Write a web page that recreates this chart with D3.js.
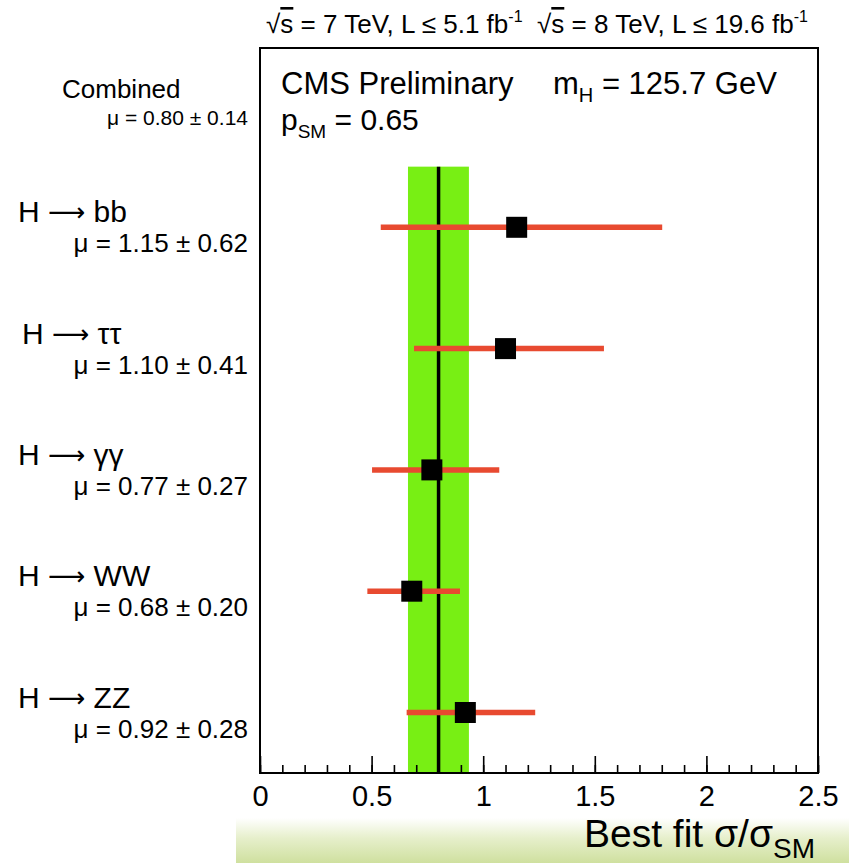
<!DOCTYPE html>
<html>
<head>
<meta charset="utf-8">
<script src="https://cdn.jsdelivr.net/npm/d3@7"></script>
<style>
  body { margin: 0; background: #fff; }
  svg { display: block; font-family: "Liberation Sans", Arial, sans-serif; }
</style>
</head>
<body>
<div id="chart"></div>
<script>
// channel rows, top to bottom
const channels = ["Combined", "bb", "\u03c4\u03c4", "\u03b3\u03b3", "WW", "ZZ"];
const muLabels = ["\u03bc = 0.80 \u00b1 0.14", "\u03bc = 1.15 \u00b1 0.62", "\u03bc = 1.10 \u00b1 0.41",
  "\u03bc = 0.77 \u00b1 0.27", "\u03bc = 0.68 \u00b1 0.20", "\u03bc = 0.92 \u00b1 0.28"];
const bestFit = [0.80, 1.15, 1.10, 0.77, 0.68, 0.92];
const errLow = [0.663, 0.541, 0.690, 0.502, 0.481, 0.657];
const errHigh = [0.936, 1.802, 1.541, 1.072, 0.896, 1.233];
const tickValues = [0, 0.5, 1, 1.5, 2, 2.5];
const tickLabels = ["0", "0.5", "1", "1.5", "2", "2.5"];

const width = 849, height = 863;
const frame = {left: 260, right: 818, top: 48, bottom: 773};

const svg = d3.select('#chart').append('svg')
  .attr('width', width)
  .attr('height', height);

// slide decoration at the bottom
const defs = svg.append('defs');
const grad = defs.append('linearGradient')
  .attr('id', 'slideGrad').attr('x1', 0).attr('y1', 0).attr('x2', 0).attr('y2', 1);
grad.append('stop').attr('offset', '0%').attr('stop-color', '#ffffff');
grad.append('stop').attr('offset', '45%').attr('stop-color', '#e6efcb');
grad.append('stop').attr('offset', '100%').attr('stop-color', '#cfe09f');
svg.append('rect')
  .attr('x', 236).attr('y', 818).attr('width', width - 236).attr('height', height - 818)
  .attr('fill', 'url(#slideGrad)');

let xScale = d3.scaleLinear()
  .domain([0, 2.5])
  .range([frame.left, frame.right]);
let yScale = d3.scaleLinear()
  .domain([0, 5])
  .range([106, 712.5]);

// combined band + line
svg.append('rect')
  .attr('x', xScale(errLow[0]))
  .attr('width', xScale(errHigh[0]) - xScale(errLow[0]))
  .attr('y', yScale(0.5))
  .attr('height', frame.bottom - yScale(0.5))
  .attr('fill', '#78ef14');
svg.append('line')
  .attr('x1', xScale(bestFit[0])).attr('x2', xScale(bestFit[0]))
  .attr('y1', yScale(0.5)).attr('y2', frame.bottom)
  .attr('stroke', '#000').attr('stroke-width', 3.5);

// channel error bars and points
const rows = d3.range(1, channels.length);
svg.selectAll('line.err').data(rows).join('line')
  .attr('class', 'err')
  .attr('x1', i => xScale(errLow[i]))
  .attr('x2', i => xScale(errHigh[i]))
  .attr('y1', i => yScale(i))
  .attr('y2', i => yScale(i))
  .attr('stroke', '#e84a30')
  .attr('stroke-width', 5.5);
const sq = 21;
svg.selectAll('rect.pt').data(rows).join('rect')
  .attr('class', 'pt')
  .attr('x', i => xScale(bestFit[i]) - sq / 2)
  .attr('y', i => yScale(i) - sq / 2)
  .attr('width', sq).attr('height', sq)
  .attr('fill', '#000');

// frame
svg.append('rect')
  .attr('x', frame.left).attr('y', frame.top)
  .attr('width', frame.right - frame.left).attr('height', frame.bottom - frame.top)
  .attr('fill', 'none').attr('stroke', '#000').attr('stroke-width', 2);

// x axis: minor + major ticks pointing inward
let minorAxis = d3.axisBottom(xScale).tickValues(d3.range(0, 2.501, 0.1)).tickSize(-8).tickFormat('');
let minor = svg.append('g').attr('transform', 'translate(0,' + frame.bottom + ')').call(minorAxis);
let majorAxis = d3.axisBottom(xScale).tickValues(tickValues).tickSize(-17).tickPadding(12)
  .tickFormat((d, i) => tickLabels[i]);
let major = svg.append('g').attr('transform', 'translate(0,' + frame.bottom + ')').call(majorAxis);
[minor, major].forEach(g => {
  g.select('.domain').remove();
  g.selectAll('line').attr('stroke', '#000').attr('stroke-width', 1.6);
});
major.selectAll('text')
  .attr('font-family', '"Liberation Sans", Arial, sans-serif')
  .attr('font-size', 29).attr('fill', '#000');

// axis title
const title = svg.append('text')
  .attr('x', 815).attr('y', 847)
  .attr('text-anchor', 'end')
  .attr('font-size', 39);
title.append('tspan').text('Best fit \u03c3/\u03c3');
title.append('tspan').attr('font-size', 28).attr('dy', 11).text('SM');

// header
const header = svg.append('text')
  .attr('x', 537).attr('y', 33)
  .attr('text-anchor', 'middle')
  .attr('font-size', 26);
function sqrtS(t) {
  t.append('tspan').text('\u221a');
  t.append('tspan').style('text-decoration', 'overline').text('s');
}
sqrtS(header);
header.append('tspan').text(' = 7 TeV, L \u2264 5.1 fb');
header.append('tspan').attr('font-size', 16).attr('dy', -11).text('-1');
header.append('tspan').attr('dy', 11).text('\u00a0 ');
sqrtS(header);
header.append('tspan').text(' = 8 TeV, L \u2264 19.6 fb');
header.append('tspan').attr('font-size', 16).attr('dy', -11).text('-1');

// CMS label
svg.append('text').attr('x', 281).attr('y', 94).attr('font-size', 31).text('CMS Preliminary');
const mh = svg.append('text').attr('x', 553).attr('y', 94).attr('font-size', 31);
mh.append('tspan').text('m');
mh.append('tspan').attr('font-size', 20).attr('dy', 8).text('H');
mh.append('tspan').attr('dy', -8).text(' = 125.7 GeV');
const psm = svg.append('text').attr('x', 281).attr('y', 130).attr('font-size', 30);
psm.append('tspan').text('p');
psm.append('tspan').attr('font-size', 19).attr('dy', 8).text('SM');
psm.append('tspan').attr('dy', -8).text(' = 0.65');

// row labels
const idx = d3.range(channels.length);
const chan = svg.selectAll('text.chan').data(idx).join('text')
  .attr('class', 'chan')
  .attr('x', i => i === 0 ? 62 : (i === 2 ? 22 : 18))
  .attr('y', i => i === 0 ? yScale(i) - 8 : yScale(i) - 5)
  .attr('font-size', i => i === 0 ? 26 : 30);
chan.filter(i => i === 0).text(i => channels[i]);
const decay = chan.filter(i => i > 0);
decay.append('tspan').text('H ');
decay.append('tspan')
  .attr('font-family', '"DejaVu Sans", sans-serif')
  .attr('font-size', 26)
  .attr('dy', -1)
  .text('\u27f6');
decay.append('tspan').attr('dy', 1).text(i => ' ' + channels[i]);

svg.selectAll('text.mu').data(idx).join('text')
  .attr('class', 'mu')
  .attr('x', 248)
  .attr('y', i => i === 0 ? yScale(i) + 19 : yScale(i) + 25)
  .attr('text-anchor', 'end')
  .attr('font-size', i => i === 0 ? 21 : 26)
  .text(i => muLabels[i]);
</script>
</body>
</html>
